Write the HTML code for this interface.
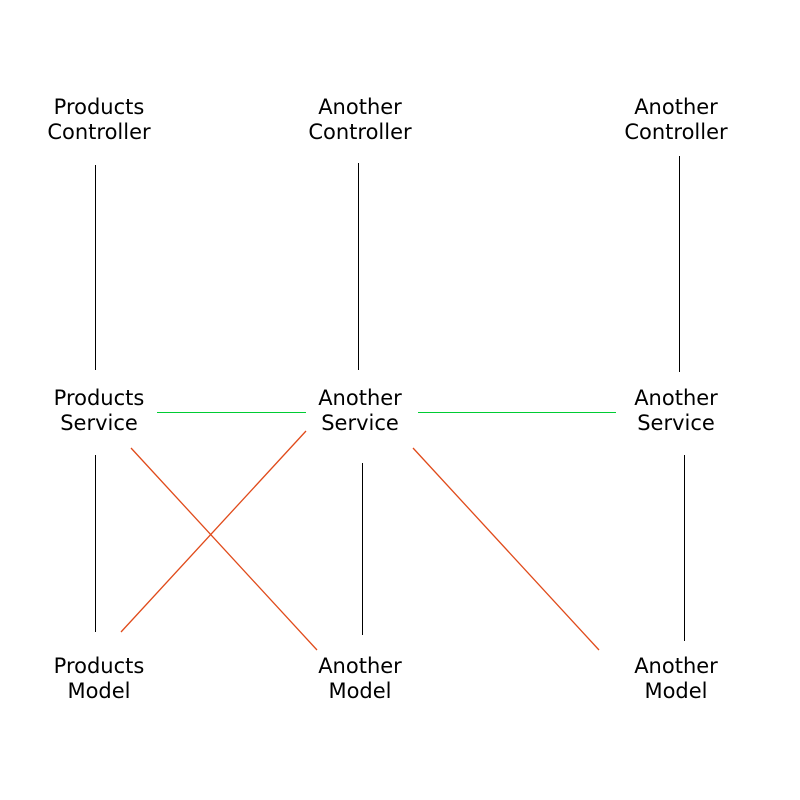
<!DOCTYPE html>
<html><head><style>
html,body{margin:0;padding:0;background:#fff;}
svg{display:block;}
text{font-family:"DejaVu Sans","Liberation Sans",sans-serif;font-size:21px;fill:#000;text-anchor:middle;}
</style></head><body>
<svg width="800" height="800" xmlns="http://www.w3.org/2000/svg">
<rect width="800" height="800" fill="#fff"/>
<g>
<text x="99" y="114">Products</text><text x="99" y="139">Controller</text>
<text x="360" y="114">Another</text><text x="360" y="139">Controller</text>
<text x="676" y="114">Another</text><text x="676" y="139">Controller</text>
<text x="99" y="405">Products</text><text x="99" y="430">Service</text>
<text x="360" y="405">Another</text><text x="360" y="430">Service</text>
<text x="676" y="405">Another</text><text x="676" y="430">Service</text>
<text x="99" y="673">Products</text><text x="99" y="698">Model</text>
<text x="360" y="673">Another</text><text x="360" y="698">Model</text>
<text x="676" y="673">Another</text><text x="676" y="698">Model</text>
</g>
<g stroke="#000" stroke-width="1" shape-rendering="crispEdges">
<line x1="95.5" y1="165" x2="95.5" y2="370"/>
<line x1="358.5" y1="163" x2="358.5" y2="370"/>
<line x1="679.5" y1="156" x2="679.5" y2="372"/>
<line x1="95.5" y1="455" x2="95.5" y2="632"/>
<line x1="362.5" y1="463" x2="362.5" y2="635"/>
<line x1="684.5" y1="455" x2="684.5" y2="641"/>
</g>
<g stroke="#00cc33" stroke-width="1" shape-rendering="crispEdges">
<line x1="157" y1="412.5" x2="306" y2="412.5"/>
<line x1="418" y1="412.5" x2="616" y2="412.5"/>
</g>
<g stroke="#e04a1a" stroke-width="1.3">
<line x1="131" y1="448" x2="317" y2="650"/>
<line x1="306" y1="431" x2="121" y2="632"/>
<line x1="413" y1="448" x2="599" y2="650"/>
</g>
</svg>
</body></html>
